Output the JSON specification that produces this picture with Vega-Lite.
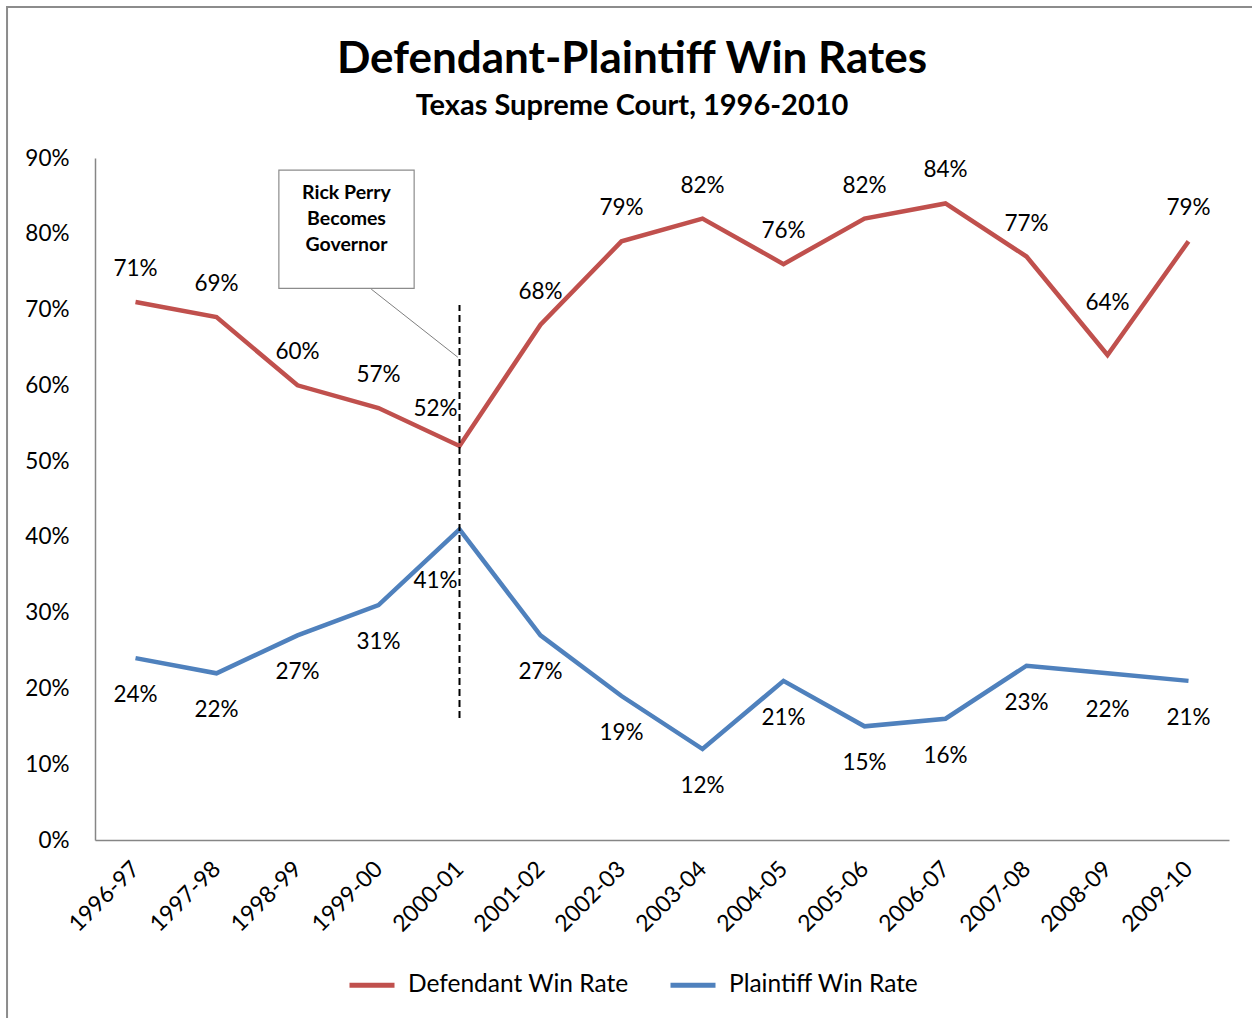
{
  "$schema": "https://vega.github.io/schema/vega-lite/v6.json",
  "width": 1134,
  "height": 682,
  "autosize": {"type": "none"},
  "padding": {"left": 95, "top": 158, "right": 23, "bottom": 178},
  "background": "white",
  "title": {
    "text": "Defendant-Plaintiff Win Rates",
    "subtitle": "Texas Supreme Court, 1996-2010",
    "anchor": "middle",
    "frame": "group",
    "dx": -30,
    "offset": -115,
    "font": "Lato",
    "fontSize": 44,
    "fontWeight": "bold",
    "color": "black",
    "subtitleFont": "Lato",
    "subtitleFontSize": 29,
    "subtitleFontWeight": "bold",
    "subtitleColor": "black",
    "subtitlePadding": 10
  },
  "datasets": {
    "rates": [
      {"period": "1996-97", "idx": 0, "series": "Defendant Win Rate", "value": 0.71},
      {"period": "1997-98", "idx": 1, "series": "Defendant Win Rate", "value": 0.69},
      {"period": "1998-99", "idx": 2, "series": "Defendant Win Rate", "value": 0.60},
      {"period": "1999-00", "idx": 3, "series": "Defendant Win Rate", "value": 0.57},
      {"period": "2000-01", "idx": 4, "series": "Defendant Win Rate", "value": 0.52},
      {"period": "2001-02", "idx": 5, "series": "Defendant Win Rate", "value": 0.68},
      {"period": "2002-03", "idx": 6, "series": "Defendant Win Rate", "value": 0.79},
      {"period": "2003-04", "idx": 7, "series": "Defendant Win Rate", "value": 0.82},
      {"period": "2004-05", "idx": 8, "series": "Defendant Win Rate", "value": 0.76},
      {"period": "2005-06", "idx": 9, "series": "Defendant Win Rate", "value": 0.82},
      {"period": "2006-07", "idx": 10, "series": "Defendant Win Rate", "value": 0.84},
      {"period": "2007-08", "idx": 11, "series": "Defendant Win Rate", "value": 0.77},
      {"period": "2008-09", "idx": 12, "series": "Defendant Win Rate", "value": 0.64},
      {"period": "2009-10", "idx": 13, "series": "Defendant Win Rate", "value": 0.79},
      {"period": "1996-97", "idx": 0, "series": "Plaintiff Win Rate", "value": 0.24},
      {"period": "1997-98", "idx": 1, "series": "Plaintiff Win Rate", "value": 0.22},
      {"period": "1998-99", "idx": 2, "series": "Plaintiff Win Rate", "value": 0.27},
      {"period": "1999-00", "idx": 3, "series": "Plaintiff Win Rate", "value": 0.31},
      {"period": "2000-01", "idx": 4, "series": "Plaintiff Win Rate", "value": 0.41},
      {"period": "2001-02", "idx": 5, "series": "Plaintiff Win Rate", "value": 0.27},
      {"period": "2002-03", "idx": 6, "series": "Plaintiff Win Rate", "value": 0.19},
      {"period": "2003-04", "idx": 7, "series": "Plaintiff Win Rate", "value": 0.12},
      {"period": "2004-05", "idx": 8, "series": "Plaintiff Win Rate", "value": 0.21},
      {"period": "2005-06", "idx": 9, "series": "Plaintiff Win Rate", "value": 0.15},
      {"period": "2006-07", "idx": 10, "series": "Plaintiff Win Rate", "value": 0.16},
      {"period": "2007-08", "idx": 11, "series": "Plaintiff Win Rate", "value": 0.23},
      {"period": "2008-09", "idx": 12, "series": "Plaintiff Win Rate", "value": 0.22},
      {"period": "2009-10", "idx": 13, "series": "Plaintiff Win Rate", "value": 0.21}
    ],
    "box": [{"x1": 1.77, "x2": 3.44, "y1": 0.884, "y2": 0.728, "xc": 2.605, "yc": 0.8538, "label": "Rick Perry\nBecomes\nGovernor"}],
    "connector": [{"x1": 2.91, "x2": 3.98, "y1": 0.727, "y2": 0.637}],
    "marker": [{"x": 4, "y1": 0.161, "y2": 0.706}],
    "frame": [{"x1": -1.586, "x2": 14.2, "y1": 1.0993, "y2": -0.3}]
  },
  "config": {
    "view": {"stroke": null},
    "axis": {
      "domainColor": "#868686",
      "domainWidth": 1.5,
      "ticks": false,
      "grid": false,
      "labelFont": "Lato",
      "labelFontSize": 22.5,
      "labelColor": "black",
      "title": null
    }
  },
  "layer": [
    {
      "data": {"name": "frame"},
      "mark": {"type": "rect", "fill": null, "stroke": "#8C8C8C", "strokeWidth": 2, "clip": false},
      "encoding": {
        "x": {"field": "x1", "type": "quantitative"},
        "x2": {"field": "x2"},
        "y": {"field": "y1", "type": "quantitative"},
        "y2": {"field": "y2"}
      }
    },
    {
      "data": {"name": "rates"},
      "mark": {"type": "line", "strokeWidth": 4.5},
      "encoding": {
        "x": {
          "field": "idx",
          "type": "quantitative",
          "scale": {"domain": [-0.5, 13.5], "nice": false, "zero": false},
          "axis": {
            "values": [0, 1, 2, 3, 4, 5, 6, 7, 8, 9, 10, 11, 12, 13],
            "labelExpr": "['1996-97','1997-98','1998-99','1999-00','2000-01','2001-02','2002-03','2003-04','2004-05','2005-06','2006-07','2007-08','2008-09','2009-10'][datum.value]",
            "labelAngle": -45,
            "labelAlign": "right",
            "labelBaseline": "middle",
            "labelPadding": 25,
            "labelFontSize": 23,
            "labelFlush": false,
            "labelOverlap": false
          }
        },
        "y": {
          "field": "value",
          "type": "quantitative",
          "scale": {"domain": [0, 0.9], "nice": false},
          "axis": {
            "values": [0, 0.1, 0.2, 0.3, 0.4, 0.5, 0.6, 0.7, 0.8, 0.9],
            "format": ".0%",
            "labelPadding": 26
          }
        },
        "color": {
          "field": "series",
          "type": "nominal",
          "scale": {"domain": ["Defendant Win Rate", "Plaintiff Win Rate"], "range": ["#C0504D", "#4F81BD"]},
          "legend": {
            "orient": "none",
            "legendX": 252,
            "legendY": 802,
            "direction": "horizontal",
            "title": null,
            "symbolType": "stroke",
            "symbolSize": 2025,
            "symbolStrokeWidth": 5,
            "labelFont": "Lato",
            "labelFontSize": 24.5,
            "labelColor": "black",
            "labelOffset": 11,
            "labelLimit": 400,
            "columnPadding": 31
          }
        }
      }
    },
    {
      "data": {"name": "rates"},
      "transform": [{"filter": "datum.series == 'Defendant Win Rate' && datum.idx != 4 && datum.idx != 12"}],
      "mark": {"type": "text", "dy": -33, "font": "Lato", "fontSize": 22.5, "color": "black"},
      "encoding": {
        "x": {"field": "idx", "type": "quantitative"},
        "y": {"field": "value", "type": "quantitative"},
        "text": {"field": "value", "type": "quantitative", "format": ".0%"}
      }
    },
    {
      "data": {"name": "rates"},
      "transform": [{"filter": "datum.series == 'Defendant Win Rate' && datum.idx == 12"}],
      "mark": {"type": "text", "dy": -52, "font": "Lato", "fontSize": 22.5, "color": "black"},
      "encoding": {
        "x": {"field": "idx", "type": "quantitative"},
        "y": {"field": "value", "type": "quantitative"},
        "text": {"field": "value", "type": "quantitative", "format": ".0%"}
      }
    },
    {
      "data": {"name": "rates"},
      "transform": [{"filter": "datum.series == 'Plaintiff Win Rate' && datum.idx != 4"}],
      "mark": {"type": "text", "dy": 37, "font": "Lato", "fontSize": 22.5, "color": "black"},
      "encoding": {
        "x": {"field": "idx", "type": "quantitative"},
        "y": {"field": "value", "type": "quantitative"},
        "text": {"field": "value", "type": "quantitative", "format": ".0%"}
      }
    },
    {
      "data": {"name": "rates"},
      "transform": [{"filter": "datum.series == 'Defendant Win Rate' && datum.idx == 4"}],
      "mark": {"type": "text", "dy": -37, "dx": -24, "font": "Lato", "fontSize": 22.5, "color": "black"},
      "encoding": {
        "x": {"field": "idx", "type": "quantitative"},
        "y": {"field": "value", "type": "quantitative"},
        "text": {"field": "value", "type": "quantitative", "format": ".0%"}
      }
    },
    {
      "data": {"name": "rates"},
      "transform": [{"filter": "datum.series == 'Plaintiff Win Rate' && datum.idx == 4"}],
      "mark": {"type": "text", "dy": 52, "dx": -24, "font": "Lato", "fontSize": 22.5, "color": "black"},
      "encoding": {
        "x": {"field": "idx", "type": "quantitative"},
        "y": {"field": "value", "type": "quantitative"},
        "text": {"field": "value", "type": "quantitative", "format": ".0%"}
      }
    },
    {
      "data": {"name": "marker"},
      "mark": {"type": "rule", "color": "black", "strokeWidth": 2, "strokeDash": [7, 4]},
      "encoding": {
        "x": {"field": "x", "type": "quantitative"},
        "y": {"field": "y1", "type": "quantitative"},
        "y2": {"field": "y2"}
      }
    },
    {
      "data": {"name": "connector"},
      "mark": {"type": "rule", "color": "#7F7F7F", "strokeWidth": 1},
      "encoding": {
        "x": {"field": "x1", "type": "quantitative"},
        "x2": {"field": "x2"},
        "y": {"field": "y1", "type": "quantitative"},
        "y2": {"field": "y2"}
      }
    },
    {
      "data": {"name": "box"},
      "mark": {"type": "rect", "fill": "white", "stroke": "#8C8C8C", "strokeWidth": 1.2},
      "encoding": {
        "x": {"field": "x1", "type": "quantitative"},
        "x2": {"field": "x2"},
        "y": {"field": "y1", "type": "quantitative"},
        "y2": {"field": "y2"}
      }
    },
    {
      "data": {"name": "box"},
      "mark": {"type": "text", "font": "Lato", "fontSize": 19.5, "fontWeight": "bold", "color": "black", "lineBreak": "\n", "lineHeight": 26, "baseline": "middle", "align": "center"},
      "encoding": {
        "x": {"field": "xc", "type": "quantitative"},
        "y": {"field": "yc", "type": "quantitative"},
        "text": {"field": "label", "type": "nominal"}
      }
    }
  ]
}
